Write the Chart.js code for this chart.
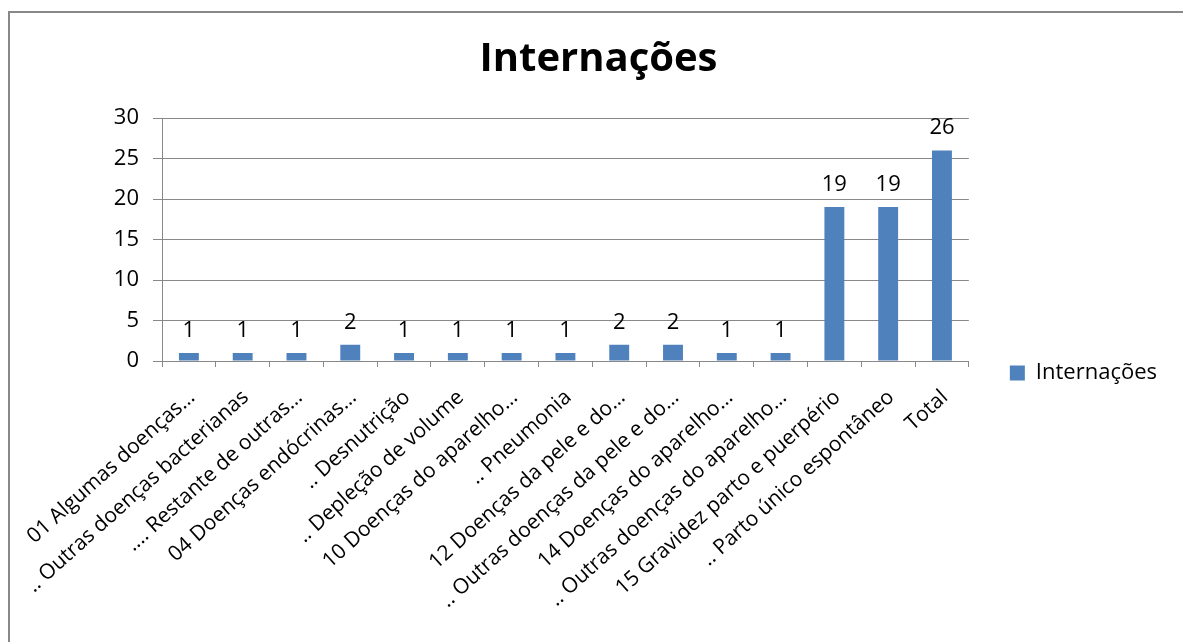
<!DOCTYPE html>
<html><head><meta charset="utf-8">
<script src="https://cdn.jsdelivr.net/npm/chart.js@4.4.0/dist/chart.umd.min.js"></script>
<style>
html,body{margin:0;padding:0;background:#fff;overflow:hidden;width:1183px;height:642px;}
#frame{position:absolute;left:8px;top:11px;width:1175px;height:631px;border-left:2px solid #888;border-top:2px solid #888;box-sizing:border-box;}
#wrap{position:absolute;left:10px;top:13px;width:1173px;height:629px;}
</style></head><body>
<div id="frame"></div>
<div id="wrap"><canvas id="c"></canvas></div>
<script>
const chartTitle = 'Internações';
const seriesName = 'Internações';
const categories = [
  '01 Algumas doenças…',
  '.. Outras doenças bacterianas',
  '.... Restante de outras…',
  '04 Doenças endócrinas…',
  '.. Desnutrição',
  '.. Depleção de volume',
  '10 Doenças do aparelho…',
  '.. Pneumonia',
  '12 Doenças da pele e do…',
  '.. Outras doenças da pele e do…',
  '14 Doenças do aparelho…',
  '.. Outras doenças do aparelho…',
  '15 Gravidez parto e puerpério',
  '.. Parto único espontâneo',
  'Total'
];
const values = [1, 1, 1, 2, 1, 1, 1, 1, 2, 2, 1, 1, 19, 19, 26];
const yMin = 0, yMax = 30, yStep = 5;

Chart.defaults.font.family = "'Open Sans', sans-serif";
Chart.defaults.color = '#000';

const valueLabels = {
  id: 'valueLabels',
  afterDatasetsDraw(chart) {
    const ctx = chart.ctx;
    const meta = chart.getDatasetMeta(0);
    ctx.save();
    ctx.font = "22px 'Open Sans', sans-serif";
    ctx.fillStyle = '#000';
    ctx.textAlign = 'center';
    ctx.textBaseline = 'alphabetic';
    meta.data.forEach((bar, i) => {
      ctx.fillText(String(chart.data.datasets[0].data[i]), bar.x, bar.y - 16);
    });
    ctx.restore();
  }
};

const boxShift = {
  id: 'boxShift',
  afterLayout(chart) {
    if (chart.legend) {
      chart.legend.top += 43;
      chart.legend.bottom += 43;
    }
    if (chart.titleBlock) {
      chart.titleBlock.left += 10;
      chart.titleBlock.right += 10;
    }
  }
};

new Chart(document.getElementById('c'), {
  type: 'bar',
  data: {
    labels: categories,
    datasets: [{
      label: seriesName,
      data: values,
      backgroundColor: '#4F81BD',
      borderWidth: 0,
      barPercentage: 0.37,
      categoryPercentage: 1.0
    }]
  },
  options: {
    responsive: true,
    maintainAspectRatio: false,
    animation: false,
    devicePixelRatio: 1,
    layout: { padding: { top: 23, right: 16, bottom: 18, left: 0 } },
    plugins: {
      title: {
        display: true,
        text: chartTitle,
        color: '#000',
        font: { size: 40, weight: 'bold' },
        padding: { top: 0, bottom: 34 }
      },
      legend: {
        display: true,
        position: 'right',
        labels: {
          boxWidth: 15,
          boxHeight: 15,
          padding: 41,
          color: '#000',
          font: { size: 22 }
        }
      },
      tooltip: { enabled: false }
    },
    scales: {
      x: {
        grid: { drawOnChartArea: false, offset: true, tickLength: 6, color: '#888' },
        border: { color: '#888', width: 1 },
        ticks: { autoSkip: false, maxRotation: 42, minRotation: 42, padding: 18, labelOffset: 3, color: '#000', font: { size: 21 } },
        afterFit(axis) { axis.height = 263; axis.paddingLeft = 0; axis.paddingRight = 0; }
      },
      y: {
        min: yMin,
        max: yMax,
        ticks: { stepSize: yStep, padding: 14, color: '#000', font: { size: 22 } },
        grid: { color: '#888', tickLength: 9 },
        border: { color: '#888', width: 1 },
        afterFit(axis) { axis.width = 152; }
      }
    }
  },
  plugins: [valueLabels, boxShift]
});
</script>
</body></html>
